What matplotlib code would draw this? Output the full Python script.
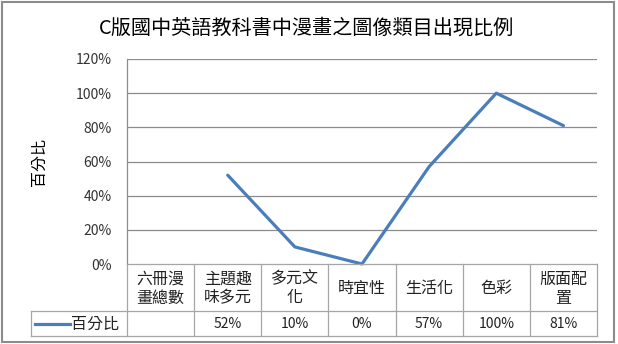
import numpy as np
import matplotlib
matplotlib.use('Agg')
import matplotlib.pyplot as plt
from matplotlib.patches import Rectangle
from matplotlib.lines import Line2D

plt.rcParams['font.family'] = ['Noto Sans CJK TC', 'DejaVu Sans']

# data
title = 'C版國中英語教科書中漫畫之圖像類目出現比例'
categories = ['六冊漫\n畫總數', '主題趣\n味多元', '多元文\n化', '時宜性', '生活化', '色彩', '版面配\n置']
values = [np.nan, 0.52, 0.10, 0.00, 0.57, 1.00, 0.81]
value_labels = ['', '52%', '10%', '0%', '57%', '100%', '81%']
series_name = '百分比'
y_ticks = [0, 0.2, 0.4, 0.6, 0.8, 1.0, 1.2]
y_tick_labels = ['0%', '20%', '40%', '60%', '80%', '100%', '120%']

W, H = 618, 344
line_color = '#4A7EBB'
grid_color = '#8C8C8C'
table_color = '#A6A6A6'

fig = plt.figure(figsize=(W / 100, H / 100), dpi=100)

# pixel layout
px_left, px_right = 127, 597
px_top, px_zero = 59, 264
px_head_bot, px_tab_bot = 311, 336
px_leg_left = 31


def fx(x):
    return x / W


def fy(y):
    return 1 - y / H


ax = fig.add_axes([fx(px_left), fy(px_zero), fx(px_right - px_left), (px_zero - px_top) / H])
n = len(categories)
xs = np.arange(n) + 0.5
ax.plot(xs, values, color=line_color, lw=2.3, solid_capstyle='round', solid_joinstyle='round', clip_on=False)
ax.set_xlim(0, n)
ax.set_ylim(0, 1.2)
ax.set_yticks(y_ticks)
ax.set_yticklabels(y_tick_labels, fontsize=10, color='#333333')
ax.set_xticks([])
ax.tick_params(axis='y', length=0, pad=11)
for y in y_ticks[1:]:
    ax.axhline(y, color=grid_color, lw=0.9, zorder=0)
for s in ['top', 'right', 'bottom']:
    ax.spines[s].set_visible(False)
ax.spines['left'].set_color(grid_color)
ax.spines['left'].set_linewidth(0.9)
ax.set_ylabel(series_name, fontsize=11.5, labelpad=20)

# data table below the plot
tab = fig.add_axes([0, 0, 1, 1], facecolor='none')
tab.set_xlim(0, W)
tab.set_ylim(H, 0)
tab.axis('off')
col_w = (px_right - px_left) / n
edges = px_left + col_w * np.arange(n + 1)
lw = 0.9
tab.plot([px_left, px_right], [px_zero, px_zero], color=table_color, lw=lw)
tab.plot([px_leg_left, px_right], [px_head_bot, px_head_bot], color=table_color, lw=lw)
tab.plot([px_leg_left, px_right], [px_tab_bot, px_tab_bot], color=table_color, lw=lw)
tab.plot([px_leg_left, px_leg_left], [px_head_bot, px_tab_bot], color=table_color, lw=lw)
for e in edges:
    tab.plot([e, e], [px_zero, px_tab_bot], color=table_color, lw=lw)
for i, c in enumerate(categories):
    cx = (edges[i] + edges[i + 1]) / 2
    tab.text(cx, (px_zero + px_head_bot) / 2 + 1, c, ha='center', va='center',
             fontsize=11.5, linespacing=1.15, color='#222222')
    tab.text(cx, (px_head_bot + px_tab_bot) / 2 + 1, value_labels[i], ha='center', va='center',
             fontsize=10, color='#222222')
ym = (px_head_bot + px_tab_bot) / 2
tab.add_line(Line2D([35, 70], [ym, ym], color=line_color, lw=2.3))
tab.text(71, ym + 1, series_name, ha='left', va='center', fontsize=11.5, color='#222222')

# title and outer frame
fig.text(fx(307), fy(28), title, ha='center', va='center', fontsize=14.5)
fig.patches.append(Rectangle((fx(2), fy(342)), fx(612), (340) / H, transform=fig.transFigure,
                             fill=False, edgecolor='#8C8C8C', lw=1.5))

fig.savefig('out.png', dpi=100)
